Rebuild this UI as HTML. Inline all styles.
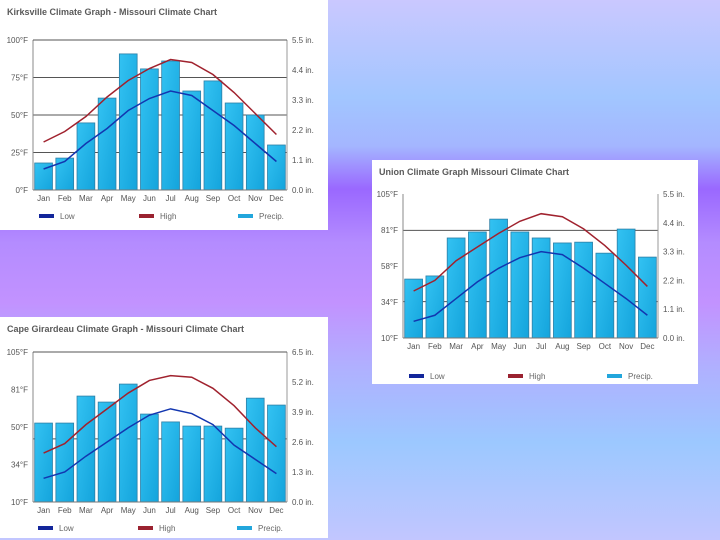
<!DOCTYPE html>
<html><head><meta charset="utf-8"><style>
html,body{margin:0;padding:0;width:720px;height:540px;overflow:hidden}
svg{display:block;font-family:"Liberation Sans",sans-serif}
</style></head><body>
<svg id="s" width="720" height="540" viewBox="0 0 720 540">
<defs>
<linearGradient id="bg" x1="0" y1="0" x2="0" y2="1">
<stop offset="0" stop-color="#cac8ff"/>
<stop offset="0.18" stop-color="#a2c6ff"/>
<stop offset="0.27" stop-color="#a4b6ff"/>
<stop offset="0.35" stop-color="#9a68ff"/>
<stop offset="0.45" stop-color="#b48cff"/>
<stop offset="0.56" stop-color="#c292ff"/>
<stop offset="0.68" stop-color="#b0b0ff"/>
<stop offset="0.82" stop-color="#9cc8ff"/>
<stop offset="1" stop-color="#c2c6ff"/>
</linearGradient>
<linearGradient id="bar" x1="0" y1="0" x2="1" y2="1">
<stop offset="0" stop-color="#33c2f2"/>
<stop offset="1" stop-color="#14a4dc"/>
</linearGradient>
</defs>
<rect width="720" height="540" fill="url(#bg)"/>
</svg>
<script>
const months=["Jan","Feb","Mar","Apr","May","Jun","Jul","Aug","Sep","Oct","Nov","Dec"];
// Kirksville
const kPrecip=[0.99,1.17,2.46,3.37,4.99,4.44,4.73,3.63,4.0,3.19,2.75,1.65];
const kHigh=[32,39,49,62,73,81,87,85,77,65,51,37];
const kLow=[14,19,31,41,53,61,66,63,53,43,31,19];
const kTempTicks=["100°F","75°F","50°F","25°F","0°F"];
const kPrecipTicks=["5.5 in.","4.4 in.","3.3 in.","2.2 in.","1.1 in.","0.0 in."];
// Union
const uPrecip=[2.25,2.37,3.82,4.05,4.54,4.05,3.82,3.63,3.66,3.24,4.16,3.09];
const uHigh=[41,48,61,70,79,87,92,90,82,71,58,44];
const uLow=[21,25,36,47,56,63,67,65,56,46,36,25];
const uTempTicks=["105°F","81°F","58°F","34°F","10°F"];
const uPrecipTicks=["5.5 in.","4.4 in.","3.3 in.","2.2 in.","1.1 in.","0.0 in."];
// Cape Girardeau
const cPrecip=[3.42,3.42,4.59,4.33,5.11,3.81,3.47,3.29,3.29,3.2,4.5,4.2];
const cHigh=[41,47,59,69,79,87,90,89,82,71,57,45];
const cLow=[25,29,39,48,57,65,69,66,59,46,37,28];
const cTempTicks=["105°F","81°F","50°F","34°F","10°F"];
const cPrecipTicks=["6.5 in.","5.2 in.","3.9 in.","2.6 in.","1.3 in.","0.0 in."];

const NS="http://www.w3.org/2000/svg";
const svg=document.getElementById('s');
function mk(tag,attrs,parent){const e=document.createElementNS(NS,tag);for(const k in attrs)e.setAttribute(k,attrs[k]);(parent||svg).appendChild(e);return e;}
function txt(str,attrs,parent){const e=mk('text',attrs,parent);e.textContent=str;return e;}

function chart(c){
  const g=mk('g',{});
  
  
  const box=mk('rect',{x:c.bx,y:c.by,width:c.bw,height:c.bh,fill:'#fff'},g);
  
  
  const t=txt(c.title,{x:c.bx+7,y:c.by+15,'font-size':9,'font-weight':'bold',fill:'#5a5a5a'},g);
  
  
  const L=c.L,R=c.R,T=c.T,B=c.B,W=R-L;
  const tY=v=>B-(v-c.tMin)/(c.tMax-c.tMin)*(B-T);
  const pY=v=>B-v/c.pMax*(B-T);
  const slot=W/12;
  const xC=i=>L+slot*(i+0.5);
  c.grid.forEach(v=>{const l=mk('line',{x1:L,x2:R,y1:tY(v),y2:tY(v),stroke:'#555','stroke-width':1},g);
    });
  c.precip.forEach((v,i)=>{const r=mk('rect',{x:xC(i)-slot*0.42,y:pY(v),width:slot*0.84,height:B-pY(v),fill:'url(#bar)',stroke:'#2d7fa6','stroke-width':0.8},g);
    });
  function line(arr,col,nm){const p=mk('polyline',{points:arr.map((v,i)=>xC(i)+','+tY(v)).join(' '),fill:'none',stroke:col,'stroke-width':1.5},g);
    }
  line(c.high,'#a0222e','high-line');
  line(c.low,'#1236b0','low-line');
  const la=mk('line',{x1:L,x2:L,y1:T,y2:B,stroke:'#888','stroke-width':1},g);
  
  const ra=mk('line',{x1:R,x2:R,y1:T,y2:B,stroke:'#999','stroke-width':1},g);
  
  const ba=mk('line',{x1:L,x2:R,y1:B,y2:B,stroke:'#777','stroke-width':1},g);
  
  if(c.top){
    const tl=mk('line',{x1:L,x2:R,y1:T,y2:T,stroke:'#555','stroke-width':1},g);
    
  }
  c.tTicks.forEach((s,i)=>{const e=txt(s,{x:L-5,y:T+i*(B-T)/(c.tTicks.length-1)+3,'font-size':8,fill:'#555','text-anchor':'end'},g);
    });
  c.pTicks.forEach((s,i)=>{const e=txt(s,{x:R+5,y:T+i*(B-T)/(c.pTicks.length-1)+3,'font-size':8,fill:'#555'},g);
    });
  months.forEach((m,i)=>{const e=txt(m,{x:xC(i),y:B+11,'font-size':8,fill:'#555','text-anchor':'middle'},g);
    });
  const ly=c.ly;
  [['Low','#13269a',c.lx[0]],['High','#9a2230',c.lx[1]],['Precip.','#22a6dc',c.lx[2]]].forEach(d=>{
    const s=mk('rect',{x:d[2],y:ly-2,width:15,height:4,fill:d[1]},g);
    
    const e=txt(d[0],{x:d[2]+21,y:ly+3,'font-size':8,fill:'#666'},g);
    
  });
}
chart({name:'kirksville-chart',title:'Kirksville Climate Graph - Missouri Climate Chart',bx:0,by:0,bw:328,bh:230,
  L:33,R:287,T:40,B:190,tMin:0,tMax:100,pMax:5.5,grid:[75,50,25],precip:kPrecip,high:kHigh,low:kLow,
  tTicks:kTempTicks,pTicks:kPrecipTicks,ly:216,lx:[39,139,238],top:true});
chart({name:'union-chart',title:'Union Climate Graph    Missouri Climate Chart',bx:372,by:160,bw:326,bh:224,
  L:403,R:658,T:194,B:338,tMin:10,tMax:105,pMax:5.5,grid:[81,34],precip:uPrecip,high:uHigh,low:uLow,
  tTicks:uTempTicks,pTicks:uPrecipTicks,ly:376,lx:[409,508,607],top:false});
chart({name:'cape-girardeau-chart',title:'Cape Girardeau Climate Graph - Missouri Climate Chart',bx:0,by:317,bw:328,bh:221,
  L:33,R:287,T:352,B:502,tMin:10,tMax:105,pMax:6.5,grid:[50],precip:cPrecip,high:cHigh,low:cLow,
  tTicks:cTempTicks,pTicks:cPrecipTicks,ly:528,lx:[38,138,237],top:true});
</script>
</body></html>
